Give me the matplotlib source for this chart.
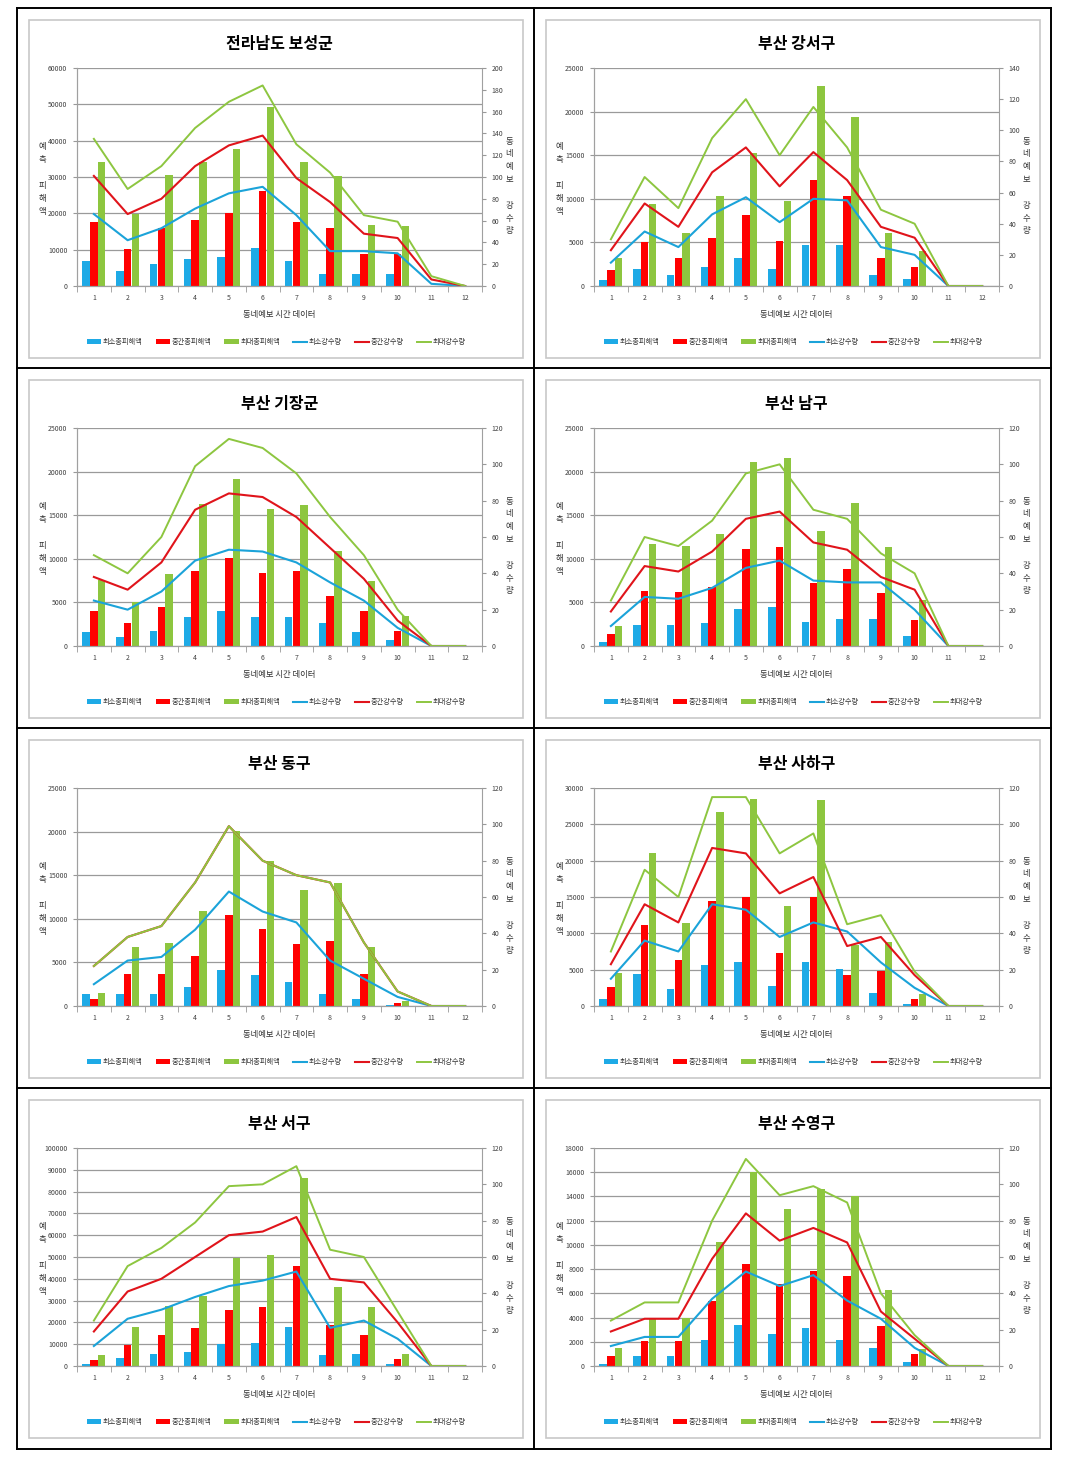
import matplotlib
matplotlib.use('Agg')
import matplotlib.pyplot as plt
from matplotlib.patches import Rectangle
import numpy as np

plt.rcParams['font.family'] = ['Noto Sans CJK KR', 'DejaVu Sans']

# Data (hours 1..12)
hours = [1, 2, 3, 4, 5, 6, 7, 8, 9, 10, 11, 12]

titles = ['전라남도 보성군', '부산 강서구', '부산 기장군', '부산 남구',
          '부산 동구', '부산 사하구', '부산 서구', '부산 수영구']

# left axis (damage) limits/steps, right axis (rain) limits
dmg_lim = [60000, 25000, 25000, 25000, 25000, 30000, 100000, 18000]
dmg_step = [10000, 5000, 5000, 5000, 5000, 5000, 10000, 2000]
rain_lim = [200, 140, 120, 120, 120, 120, 120, 120]

boseong_dmg_min = [7000, 4000, 6100, 7300, 8000, 10400, 7000, 3300, 3300, 3300, 0, 0]
boseong_dmg_mid = [17700, 10300, 16000, 18200, 20000, 26200, 17700, 16000, 8700, 8700, 0, 0]
boseong_dmg_max = [34000, 19900, 30500, 34200, 37800, 49300, 34000, 30400, 16900, 16600, 0, 0]
boseong_rain_min = [66, 42, 53, 71, 85, 91, 65, 32, 32, 30, 2, 0]
boseong_rain_mid = [101, 66, 80, 110, 129, 138, 99, 77, 48, 44, 6, 0]
boseong_rain_max = [135, 89, 110, 145, 169, 184, 130, 104, 65, 59, 9, 0]

gangseo_dmg_min = [700, 2000, 1250, 2150, 3200, 2000, 4750, 4750, 1250, 850, 0, 0]
gangseo_dmg_mid = [1850, 5000, 3250, 5500, 8150, 5150, 12100, 10300, 3250, 2200, 0, 0]
gangseo_dmg_max = [3200, 9450, 6100, 10350, 15300, 9700, 22950, 19350, 6100, 4050, 0, 0]
gangseo_rain_min = [15, 35, 25, 46, 57, 41, 56, 55, 25, 20, 0, 0]
gangseo_rain_mid = [23, 53, 38, 73, 89, 64, 86, 68, 38, 31, 0, 0]
gangseo_rain_max = [30, 70, 50, 95, 120, 84, 115, 89, 49, 40, 0, 0]

gijang_dmg_min = [1550, 1050, 1750, 3350, 4000, 3300, 3350, 2600, 1550, 650, 0, 0]
gijang_dmg_mid = [4000, 2600, 4500, 8600, 10050, 8350, 8600, 5750, 4000, 1700, 0, 0]
gijang_dmg_max = [7550, 5000, 8200, 16300, 19150, 15700, 16200, 10900, 7450, 3400, 0, 0]
gijang_rain_min = [25, 20, 30, 47, 53, 52, 46, 35, 25, 10, 0, 0]
gijang_rain_mid = [38, 31, 46, 75, 84, 82, 71, 54, 37, 14, 0, 0]
gijang_rain_max = [50, 40, 60, 99, 114, 109, 95, 71, 50, 20, 0, 0]

nam_dmg_min = [450, 2400, 2400, 2650, 4300, 4500, 2800, 3050, 3050, 1150, 0, 0]
nam_dmg_mid = [1350, 6250, 6150, 6800, 11100, 11350, 7200, 8800, 6050, 3000, 0, 0]
nam_dmg_max = [2300, 11700, 11500, 12850, 21150, 21600, 13200, 16450, 11300, 5300, 0, 0]
nam_rain_min = [11, 27, 26, 32, 43, 47, 36, 35, 35, 20, 0, 0]
nam_rain_mid = [19, 44, 41, 52, 70, 74, 57, 53, 38, 31, 0, 0]
nam_rain_max = [25, 60, 55, 69, 95, 100, 75, 70, 51, 40, 0, 0]

dong_dmg_min = [1400, 1400, 1400, 2200, 4150, 3500, 2750, 1400, 750, 100, 0, 0]
dong_dmg_mid = [850, 3650, 3700, 5750, 10450, 8800, 7150, 7450, 3650, 300, 0, 0]
dong_dmg_max = [1500, 6800, 7200, 10850, 20100, 16650, 13300, 14050, 6800, 550, 0, 0]
dong_rain_min = [12, 25, 27, 42, 63, 52, 46, 25, 15, 5, 0, 0]
dong_rain_mid = [22, 38, 44, 68, 99, 80, 72, 68, 35, 8, 0, 0]
dong_rain_max = [22, 38, 44, 68, 99, 80, 72, 68, 35, 8, 0, 0]

saha_dmg_min = [1000, 4400, 2300, 5650, 6000, 2750, 6000, 5100, 1850, 300, 0, 0]
saha_dmg_mid = [2650, 11150, 6300, 14450, 15000, 7250, 15000, 4300, 4850, 1000, 0, 0]
saha_dmg_max = [4600, 21000, 11450, 26750, 28500, 13700, 28400, 8400, 8850, 1600, 0, 0]
saha_rain_min = [15, 36, 30, 56, 53, 38, 46, 41, 24, 10, 0, 0]
saha_rain_mid = [23, 56, 46, 87, 84, 62, 71, 33, 38, 17, 0, 0]
saha_rain_max = [30, 75, 60, 115, 115, 84, 95, 45, 50, 19, 0, 0]

seo_dmg_min = [800, 3850, 5700, 6450, 10000, 10450, 18000, 5100, 5700, 800, 0, 0]
seo_dmg_mid = [2750, 9550, 14300, 17250, 25700, 26900, 45850, 18750, 14300, 3400, 0, 0]
seo_dmg_max = [5100, 18000, 27700, 32000, 49550, 50750, 86450, 36150, 26900, 5400, 0, 0]
seo_rain_min = [11, 26, 31, 38, 44, 47, 52, 21, 25, 15, 0, 0]
seo_rain_mid = [19, 41, 48, 60, 72, 74, 82, 48, 46, 24, 0, 0]
seo_rain_max = [25, 55, 65, 79, 99, 100, 110, 64, 60, 30, 0, 0]

suyeong_dmg_min = [200, 800, 800, 2150, 3350, 2650, 3150, 2150, 1500, 350, 0, 0]
suyeong_dmg_mid = [850, 2050, 2050, 5400, 8400, 6750, 7850, 7450, 3300, 950, 0, 0]
suyeong_dmg_max = [1450, 3900, 4000, 10250, 16050, 12950, 14650, 14000, 6250, 1400, 0, 0]
suyeong_rain_min = [11, 16, 16, 37, 52, 44, 50, 36, 26, 10, 0, 0]
suyeong_rain_mid = [19, 26, 26, 59, 84, 69, 76, 68, 30, 15, 0, 0]
suyeong_rain_max = [25, 35, 35, 80, 114, 94, 99, 90, 40, 17, 0, 0]

series_names = ['최소총피해액', '중간총피해액', '최대총피해액', '최소강수량', '중간강수량', '최대강수량']

panels = [
    (boseong_dmg_min, boseong_dmg_mid, boseong_dmg_max, boseong_rain_min, boseong_rain_mid, boseong_rain_max),
    (gangseo_dmg_min, gangseo_dmg_mid, gangseo_dmg_max, gangseo_rain_min, gangseo_rain_mid, gangseo_rain_max),
    (gijang_dmg_min, gijang_dmg_mid, gijang_dmg_max, gijang_rain_min, gijang_rain_mid, gijang_rain_max),
    (nam_dmg_min, nam_dmg_mid, nam_dmg_max, nam_rain_min, nam_rain_mid, nam_rain_max),
    (dong_dmg_min, dong_dmg_mid, dong_dmg_max, dong_rain_min, dong_rain_mid, dong_rain_max),
    (saha_dmg_min, saha_dmg_mid, saha_dmg_max, saha_rain_min, saha_rain_mid, saha_rain_max),
    (seo_dmg_min, seo_dmg_mid, seo_dmg_max, seo_rain_min, seo_rain_mid, seo_rain_max),
    (suyeong_dmg_min, suyeong_dmg_mid, suyeong_dmg_max, suyeong_rain_min, suyeong_rain_mid, suyeong_rain_max),
]

bar_colors = ['#1EAAE6', '#FF0000', '#8DC63F']
line_colors = ['#1BA3D9', '#E0141B', '#8DC640']

W, H = 1065, 1463
fig = plt.figure(figsize=(W / 100, H / 100), dpi=100)


def fx(px):
    return px / W


def fy(py):
    return 1 - py / H


# table grid
col_left = [17, 534]
col_w = 517
row_top = [8, 368, 728, 1088]
row_h = 361
grid_kw = dict(color='black', lw=1.4, transform=fig.transFigure)
for x in [17, 534, 1051]:
    fig.add_artist(plt.Line2D([fx(x), fx(x)], [fy(8), fy(1449)], **grid_kw))
for y in [8, 368, 728, 1088, 1449]:
    fig.add_artist(plt.Line2D([fx(17), fx(1051)], [fy(y), fy(y)], **grid_kw))

x = np.array(hours)
bw = 0.22

for i, (title, data) in enumerate(zip(titles, panels)):
    cx = col_left[i % 2]
    cy = row_top[i // 2]

    # chart frame
    fig.add_artist(Rectangle((fx(cx + 12), fy(cy + row_h - 11)),
                             fx(col_w - 23), (row_h - 23) / H,
                             transform=fig.transFigure, fill=False,
                             edgecolor='#c8c8c8', lw=1.2))

    left, top = cx + 60, cy + 60
    width, height = 405, 218
    ax = fig.add_axes([fx(left), fy(top + height), fx(width), height / H])
    ax2 = ax.twinx()

    dmin, dmid, dmax, rmin, rmid, rmax = data
    h1 = ax.bar(x - 0.23, dmin, bw, color=bar_colors[0], label=series_names[0])
    h2 = ax.bar(x, dmid, bw, color=bar_colors[1], label=series_names[1])
    h3 = ax.bar(x + 0.23, dmax, bw, color=bar_colors[2], label=series_names[2])
    l1, = ax2.plot(x, rmin, color=line_colors[0], lw=1.5, label=series_names[3])
    l2, = ax2.plot(x, rmid, color=line_colors[1], lw=1.5, label=series_names[4])
    l3, = ax2.plot(x, rmax, color=line_colors[2], lw=1.4, label=series_names[5])

    ax.set_xlim(0.5, 12.5)
    ax.set_ylim(0, dmg_lim[i])
    ax.set_yticks(np.arange(0, dmg_lim[i] + 1, dmg_step[i]))
    ax2.set_ylim(0, rain_lim[i])
    ax2.set_yticks(np.arange(0, rain_lim[i] + 1, 20))
    ax.set_xticks(hours)
    ax.set_xticks(np.arange(0.5, 13, 1), minor=True)
    ax.tick_params(axis='x', which='major', length=0, labelsize=5, pad=6, colors='#404040')
    ax.tick_params(axis='x', which='minor', length=4, color='#999999')
    ax.tick_params(axis='y', length=3, color='#999999', labelsize=5, colors='#404040', pad=4)
    ax2.tick_params(axis='y', length=3, color='#999999', labelsize=5, colors='#404040', pad=4)
    ax.grid(axis='y', color='#9a9a9a', lw=0.9)
    ax.set_axisbelow(True)
    for a in (ax, ax2):
        a.spines['top'].set_visible(False)
        a.spines['left'].set_color('#a0a0a0')
        a.spines['right'].set_color('#a0a0a0')
        a.spines['bottom'].set_color('#a0a0a0')
    ax2.spines['right'].set_visible(False)
    ax.patch.set_visible(False)

    mid_x = fx(left + width / 2)
    fig.text(mid_x, fy(cy + 36), title, ha='center', va='center',
             fontsize=11.5, fontweight='bold')
    fig.text(mid_x, fy(cy + 307), '동네예보 시간 데이터', ha='center', va='center',
             fontsize=6, color='#303030')
    fig.text(fx(cx + 25), fy(cy + 171), '예\n측\n\n피\n해\n액', ha='center', va='center',
             fontsize=6, linespacing=1.55, color='#303030')
    fig.text(fx(cx + 492), fy(cy + 178), '동\n네\n예\n보\n\n강\n수\n량', ha='center',
             va='center', fontsize=6, linespacing=1.55, color='#303030')

    fig.legend([h1, h2, h3, l1, l2, l3], series_names, loc='center',
               bbox_to_anchor=(mid_x - fx(3), fy(cy + 334)), ncol=6, frameon=False,
               fontsize=5.2, handlelength=2.0, handleheight=0.6, handletextpad=0.2,
               columnspacing=1.8, labelcolor='#303030')

plt.savefig('out.png', dpi=100)
